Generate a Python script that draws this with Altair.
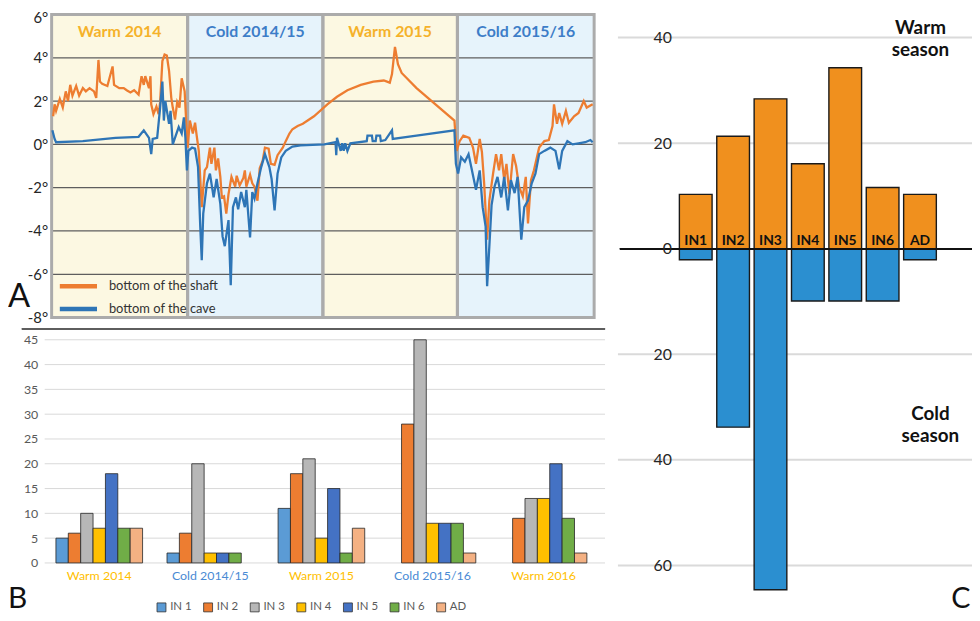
import altair as alt
import pandas as pd

FONT = "Lato"
W, H = 972, 613

# ---------------- Panel A : temperatures ----------------
season_names = ["Warm 2014", "Cold 2014/15", "Warm 2015", "Cold 2015/16"]
season_kind = ["Warm", "Cold", "Warm", "Cold"]
season_start = [0, 183, 365, 546]
season_end = [183, 365, 546, 730]
temp_ticks = [-8, -6, -4, -2, 0, 2, 4, 6]
temp_grid = [-6, -4, -2, 0, 2, 4]

shaft_day = [2, 4, 6, 11, 15, 19, 22, 25, 28, 33,
             37, 42, 46, 51, 57, 60, 63, 65, 68, 75,
             82, 84, 91, 97, 101, 106, 111, 117, 121, 124,
             126, 131, 133, 134, 137, 141, 144, 146, 149, 152,
             155, 158, 161, 163, 166, 169, 172, 175, 179, 181,
             183, 186, 190, 193, 195, 198, 202, 206, 209, 213,
             215, 219, 221, 224, 227, 229, 232, 235, 238, 242,
             247, 249, 253, 258, 260, 262, 267, 270, 273, 277,
             280, 284, 287, 292, 295, 300, 304, 311, 315, 320,
             324, 331, 338, 353, 371, 384, 398, 416, 433, 447,
             455, 458, 462, 466, 471, 491, 542, 545, 549, 554,
             562, 567, 571, 576, 579, 582, 586, 589, 594, 598,
             602, 605, 609, 612, 616, 621, 625, 629, 634, 638,
             641, 645, 649, 656, 663, 669, 674, 676, 680, 683,
             687, 692, 696, 703, 709, 716, 720, 728]
shaft_temp = [1.3, 1.85, 1.55, 2.1, 1.7, 2.45, 2.0, 2.75, 2.25, 2.7,
              2.25, 2.6, 2.45, 2.6, 2.45, 2.15, 3.9, 2.9, 2.8, 2.7,
              3.6, 2.75, 2.6, 2.6, 2.5, 2.4, 2.5, 2.3, 3.15, 2.75,
              3.15, 2.6, 3.15, 1.85, 1.4, 1.75, 1.4, 1.95, 3.85, 4.15,
              4.1, 3.4, 2.15, 1.7, 1.15, 1.95, 1.7, 3.05, 2.45, 1.1,
              -0.15, 1.1, 0.5, 1.0, 0.45, -0.3, -2.9, -1.2, -1.05, -0.15,
              -0.9, -0.15, -1.2, -0.65, -1.5, -2.45, -2.4, -3.2, -2.3, -1.5,
              -1.95, -1.45, -1.9, -1.55, -1.2, -1.95, -1.4, -1.8, -1.95, -2.6,
              -1.1, -0.75, -0.15, -0.2, -0.9, -0.95, -0.5, -0.15, 0.15, 0.5,
              0.7, 0.85, 0.95, 1.3, 1.85, 2.2, 2.5, 2.75, 2.9, 2.95,
              2.85, 3.25, 4.5, 3.7, 3.3, 2.6, 1.1, -0.3, 0.15, 0.4,
              0.3, -0.15, -0.9, 0.25, -0.35, -1.8, -4.4, -2.6, -1.35, -0.45,
              -1.2, -0.45, -1.65, -0.9, -2.3, -0.45, -1.0, -1.95, -2.4, -1.5,
              -3.65, -1.65, -1.2, -0.15, 0.15, 0.2, 0.85, 1.85, 0.95, 1.45,
              0.95, 1.55, 1.0, 1.3, 1.45, 2.0, 1.7, 1.85]

cave_day = [1, 4, 6, 42, 86, 117, 124, 131, 134, 136,
            142, 146, 149, 151, 153, 158, 160, 163, 167, 171,
            175, 178, 180, 182, 184, 189, 193, 197, 200, 202,
            204, 209, 213, 218, 222, 227, 230, 233, 238, 241,
            244, 248, 251, 255, 260, 262, 267, 270, 273, 277,
            282, 287, 293, 296, 300, 304, 309, 315, 324, 335,
            367, 382, 383, 384, 386, 389, 391, 393, 395, 398,
            402, 424, 425, 431, 432, 436, 437, 442, 443, 449,
            458, 459, 491, 542, 544, 547, 551, 556, 561, 565,
            571, 576, 580, 584, 586, 589, 592, 596, 600, 605,
            609, 614, 618, 623, 627, 632, 636, 641, 646, 651,
            656, 663, 671, 678, 683, 687, 694, 701, 709, 718,
            725, 728]
cave_temp = [0.65, 0.25, 0.1, 0.15, 0.3, 0.35, 0.65, 0.3, -0.45, 0.25,
             0.3, 1.7, 2.9, 1.1, 2.0, 0.95, 1.55, 0.0, 0.4, 0.8,
             0.5, 1.25, 0.3, -1.2, -0.3, -0.15, -0.2, -1.05, -3.8, -5.35,
             -3.2, -1.8, -1.35, -2.45, -1.6, -2.75, -4.25, -4.7, -3.5, -6.5,
             -2.9, -2.45, -3.0, -2.2, -2.9, -2.1, -4.3, -2.2, -2.5, -1.8,
             -1.05, -0.45, -1.05, -1.6, -3.05, -1.35, -0.6, -0.3, -0.1, -0.05,
             0.0, 0.1, -0.5, 0.3, 0.05, -0.3, 0.05, -0.3, 0.05, -0.3,
             0.05, 0.15, 0.4, 0.4, 0.15, 0.15, 0.4, 0.4, 0.15, 0.2,
             0.65, 0.25, 0.4, 0.65, -0.9, -1.35, -0.6, -0.8, -0.45, -1.1,
             -2.1, -1.2, -2.9, -3.8, -6.55, -4.7, -2.8, -1.95, -1.5, -2.45,
             -1.5, -3.05, -1.65, -2.25, -1.5, -4.4, -2.9, -2.6, -1.8, -1.35,
             -0.45, -0.3, -0.15, -0.3, -1.15, -0.3, 0.15, 0.0, 0.05, 0.1,
             0.2, 0.1]

line_names = ["bottom of the shaft", "bottom of the cave"]
line_colors = ["#ED7D31", "#2E75B6"]

# ---------------- Panel B : counts per season ----------------
b_seasons = ["Warm 2014", "Cold 2014/15", "Warm 2015", "Cold 2015/16", "Warm 2016"]
b_series = ["IN 1", "IN 2", "IN 3", "IN 4", "IN 5", "IN 6", "AD"]
b_colors = ["#5B9BD5", "#ED7D31", "#B7B7B7", "#FFC000", "#4472C4", "#70AD47", "#F4B183"]
b_in1 = [5, 2, 11, 0, 0]
b_in2 = [6, 6, 18, 28, 9]
b_in3 = [10, 20, 21, 45, 13]
b_in4 = [7, 2, 5, 8, 13]
b_in5 = [18, 2, 15, 8, 20]
b_in6 = [7, 2, 2, 8, 9]
b_ad = [7, 0, 7, 2, 2]
b_ticks = [0, 5, 10, 15, 20, 25, 30, 35, 40, 45]

# ---------------- Panel C : warm vs cold season ----------------
c_sites = ["IN1", "IN2", "IN3", "IN4", "IN5", "IN6", "AD"]
c_warm = [10.3, 21.3, 28.4, 16.1, 34.3, 11.6, 10.3]
c_cold = [2.1, 33.8, 64.6, 9.9, 9.9, 9.9, 2.1]
c_ticks = [40, 20, 0, -20, -40, -60]
c_grid = [40, 20, -20, -40, -60]

# ---------------- tables ----------------
df_seasons = pd.DataFrame({"name": season_names, "kind": season_kind,
                           "start": season_start, "end": season_end,
                           "lo": -8, "hi": 6})
df_agrid = pd.DataFrame({"t": temp_grid, "x0": season_start[0], "x1": season_end[-1]})
df_shaft = pd.DataFrame({"day": shaft_day, "temp": shaft_temp, "series": line_names[0]})
df_cave = pd.DataFrame({"day": cave_day, "temp": cave_temp, "series": line_names[1]})

b_vals = [b_in1, b_in2, b_in3, b_in4, b_in5, b_in6, b_ad]
df_b = pd.DataFrame([{"season": s, "series": ser, "value": vals[i]}
                     for ser, vals in zip(b_series, b_vals)
                     for i, s in enumerate(b_seasons)])
df_bgrid = pd.DataFrame({"v": b_ticks})

df_c = pd.DataFrame(
    [{"site": s, "kind": "warm", "value": w} for s, w in zip(c_sites, c_warm)] +
    [{"site": s, "kind": "cold", "value": -c} for s, c in zip(c_sites, c_cold)])
df_cgrid = pd.DataFrame({"v": c_grid})
df_clab = pd.DataFrame({"site": c_sites, "zero": 0})

# ---------------- scales (panel placement) ----------------
ax_x = alt.Scale(domain=[0, 730], range=[44, 591])
ax_y = alt.Scale(domain=[-8, 6], range=[309.6, 4])
bx = alt.Scale(domain=b_seasons, range=[36, 596], paddingInner=0.22, paddingOuter=0.11)
by = alt.Scale(domain=[0, 45], range=[557, 332])
cx = alt.Scale(domain=c_sites, range=[674.6, 938.4], paddingInner=0.125, paddingOuter=0.0625)
cy = alt.Scale(domain=[-60, 40], range=[559.5, 27.3])

kind_fill = alt.Scale(domain=["Warm", "Cold"], range=["#FCF8E2", "#E6F3FB"])
kind_text = alt.Scale(domain=["Warm", "Cold"], range=["#F5B22A", "#3D7DC8"])

# ---- A layers
a_bands = alt.Chart(df_seasons).mark_rect().encode(
    x=alt.X("start:Q", scale=ax_x, axis=None), x2="end:Q",
    y=alt.Y("lo:Q", scale=ax_y,
            axis=alt.Axis(orient="left", offset=-44, values=temp_ticks,
                          labelExpr="datum.value + '°'", domain=False, ticks=False,
                          grid=False, labelPadding=4, labelFontSize=15,
                          labelOffset={"condition": {"test": "datum.value == 6", "value": 3.5},
                                       "value": 0},
                          labelColor="#262626", labelFont=FONT, title=None)),
    y2="hi:Q",
    color=alt.Color("kind:N", scale=kind_fill, legend=None))

a_grid = alt.Chart(df_agrid).mark_rule(color="#5E5E5E", strokeWidth=1.3).encode(
    x=alt.X("x0:Q", scale=ax_x, axis=None), x2="x1:Q",
    y=alt.Y("t:Q", scale=ax_y, axis=None))

a_frame = alt.Chart(df_seasons).mark_rect(fillOpacity=0, stroke="#ABABAB", strokeWidth=3).encode(
    x=alt.X("start:Q", scale=ax_x, axis=None), x2="end:Q",
    y=alt.Y("lo:Q", scale=ax_y, axis=None), y2="hi:Q")

line_scale = alt.Scale(domain=line_names, range=line_colors)
line_legend = alt.Legend(orient="none", legendX=61, legendY=268, title=None,
                         symbolType="M-2.5,0H2.5", symbolSize=225, symbolStrokeWidth=4.5,
                         labelOffset=20.75, rowPadding=4, labelFontSize=13,
                         labelColor="#333333", labelFont=FONT, padding=0)
shaft_line = alt.Chart(df_shaft).mark_line(strokeWidth=2.3).encode(
    x=alt.X("day:Q", scale=ax_x, axis=None),
    y=alt.Y("temp:Q", scale=ax_y, axis=None),
    color=alt.Color("series:N", scale=line_scale, legend=line_legend))
cave_line = alt.Chart(df_cave).mark_line(strokeWidth=2.3).encode(
    x=alt.X("day:Q", scale=ax_x, axis=None),
    y=alt.Y("temp:Q", scale=ax_y, axis=None),
    color=alt.Color("series:N", scale=line_scale, legend=line_legend))
a_lines = alt.layer(shaft_line, cave_line)

a_titles = alt.Chart(df_seasons).transform_calculate(
    mid="(datum.start + datum.end) / 2").mark_text(
    font=FONT, fontSize=16, fontWeight="bold", baseline="middle").encode(
    x=alt.X("mid:Q", scale=ax_x, axis=None),
    y=alt.YDatum(5.2, scale=ax_y, axis=None),
    text="name:N",
    color=alt.Color("kind:N", scale=kind_text, legend=None))

separator = alt.Chart(df_seasons).mark_rule(color="#5E5E5E", strokeWidth=1.6).encode(
    x=alt.value(14), x2=alt.value(602), y=alt.value(321))

# ---- B layers
b_grid = alt.Chart(df_bgrid).mark_rule(color="#D9D9D9", strokeWidth=1).encode(
    x=alt.value(37), x2=alt.value(602),
    y=alt.Y("v:Q", scale=by,
            axis=alt.Axis(orient="left", offset=-37, values=b_ticks, domain=False,
                          ticks=False, grid=False, labelPadding=7, labelFontSize=12.5,
                          labelColor="#595959", labelFont=FONT, title=None)))

b_bars = alt.Chart(df_b).transform_filter("datum.value > 0").mark_bar(
    stroke="#262626", strokeWidth=0.8).encode(
    x=alt.X("season:N", scale=bx, sort=b_seasons,
            axis=alt.Axis(orient="bottom", offset=-(H - 557), domain=False, ticks=False,
                          grid=False, labelPadding=7, labelFontSize=12.5, labelFont=FONT,
                          labelAngle=0, title=None,
                          labelColor={"condition": {"test": "indexof(datum.label, 'Warm') >= 0",
                                                    "value": "#FFC000"},
                                      "value": "#4A8AD4"})),
    xOffset=alt.XOffset("series:N", scale=alt.Scale(domain=b_series, paddingInner=0, paddingOuter=0)),
    y=alt.Y("value:Q", scale=by, axis=None),
    color=alt.Color("series:N", scale=alt.Scale(domain=b_series, range=b_colors),
                    legend=alt.Legend(orient="none", legendX=149, legendY=596,
                                      direction="horizontal", title=None, symbolType="square",
                                      symbolSize=81, symbolStrokeColor="#333333",
                                      symbolStrokeWidth=0.8, labelFontSize=11.5,
                                      labelColor="#595959", labelFont=FONT, labelOffset=3,
                                      columnPadding=9, padding=0)))

# ---- C layers
c_gridl = alt.Chart(df_cgrid).mark_rule(color="#DADADA", strokeWidth=2).encode(
    x=alt.value(615), x2=alt.value(W),
    y=alt.Y("v:Q", scale=cy,
            axis=alt.Axis(orient="left", offset=-669, values=c_ticks,
                          labelExpr="'' + abs(datum.value)", domain=False, ticks=False,
                          grid=False, labelPadding=0, labelFontSize=16, labelColor="#262626",
                          labelFont=FONT, title=None, zindex=1)))

c_bars = alt.Chart(df_c).mark_bar(stroke="#1A1A1A", strokeWidth=1.4).encode(
    x=alt.X("site:N", scale=cx, sort=c_sites, axis=None),
    y=alt.Y("value:Q", scale=cy, axis=None),
    color=alt.Color("kind:N", scale=alt.Scale(domain=["warm", "cold"],
                                              range=["#F0901E", "#2B8FD0"]), legend=None))

c_zero = alt.Chart(df_clab).mark_rule(color="#111111", strokeWidth=1.5).encode(
    x=alt.value(617), x2=alt.value(W),
    y=alt.Y("zero:Q", scale=cy, axis=None))

c_labels = alt.Chart(df_clab).mark_text(font=FONT, fontSize=14, fontWeight="bold",
                                        baseline="bottom", dy=-1, color="#111111").encode(
    x=alt.X("site:N", scale=cx, sort=c_sites, axis=None),
    y=alt.Y("zero:Q", scale=cy, axis=None),
    text="site:N")

df_notes = pd.DataFrame({"note": ["Warm\nseason", "Cold\nseason"],
                         "at": [41.75, -31.3], "px": [920, 930]})
c_notes = alt.Chart(df_notes).mark_text(font=FONT, fontSize=19, fontWeight="bold",
                                        lineBreak="\n", lineHeight=22, baseline="middle",
                                        color="#111111").encode(
    x=alt.X("px:Q", scale=None, axis=None),
    y=alt.Y("at:Q", scale=cy, axis=None),
    text="note:N")

df_letters = pd.DataFrame({"letter": ["A", "B", "C"], "px": [0, 0, 951], "py": [289, 593, 593],
                           "size": [33, 30, 29]})
letters = alt.Chart(df_letters).mark_text(font=FONT, align="left", baseline="middle",
                                          color="#111111").encode(
    x=alt.X("px:Q", scale=None, axis=None),
    y=alt.Y("py:Q", scale=None, axis=None),
    size=alt.Size("size:Q", scale=None, legend=None),
    text="letter:N")

chart = alt.layer(
    a_bands, a_grid, a_frame, a_lines, a_titles, separator,
    b_grid, b_bars,
    c_gridl, c_bars, c_zero, c_labels, c_notes, letters
).resolve_scale(
    x="independent", y="independent", color="independent"
).resolve_axis(
    x="independent", y="independent"
).resolve_legend(
    color="independent"
).properties(
    width=W, height=H, autosize=alt.AutoSizeParams(type="none"), padding=0
).configure_view(stroke=None)

chart.save("out.html", embed_options={"renderer": "svg", "actions": False})
